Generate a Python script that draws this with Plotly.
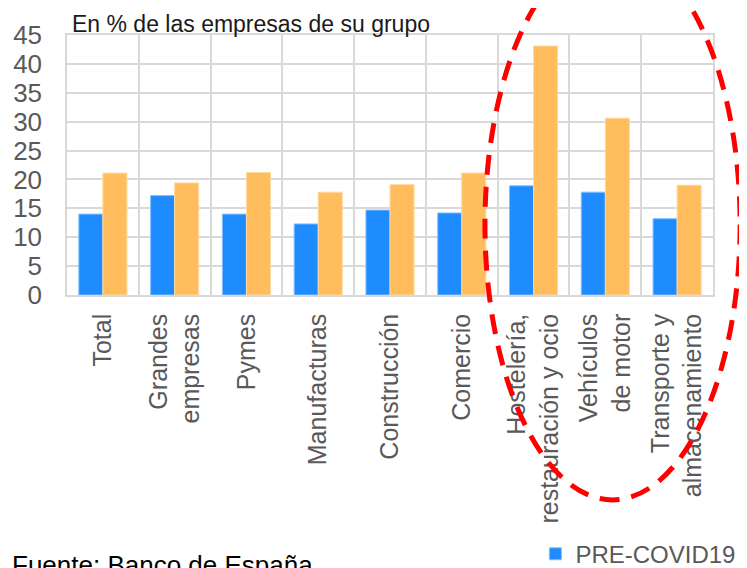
"""Empresas en situación vulnerable por sector: pre-COVID19 vs COVID19."""
import plotly.graph_objects as go

categories = [
    "Total", "Grandes<br>empresas", "Pymes", "Manufacturas", "Construcción",
    "Comercio", "Hostelería,<br>restauración y ocio", "Vehículos<br>de motor",
    "Transporte y<br>almacenamiento",
]
pre_covid = [14.0, 17.2, 14.0, 12.3, 14.7, 14.2, 18.9, 17.8, 13.2]
covid = [21.1, 19.4, 21.2, 17.8, 19.1, 21.1, 43.1, 30.6, 19.0]
y_ticks = [0, 5, 10, 15, 20, 25, 30, 35, 40, 45]

BLUE = "#1E8CFF"
ORANGE = "#FFBD5E"
GRID = "#D9D9D9"
GREY = "#595959"
FONT = "Liberation Sans"

fig = go.Figure()
fig.add_trace(go.Bar(
    x=categories, y=pre_covid, name="PRE-COVID19",
    marker=dict(color=BLUE, line=dict(color="#7FBFFF", width=1)),
))
fig.add_trace(go.Bar(
    x=categories, y=covid, name="COVID19",
    marker=dict(color=ORANGE, line=dict(color="#FFD99E", width=1)),
))

# red dashed ellipse around the most affected sectors
fig.add_shape(
    type="circle", xref="paper", yref="paper",
    x0=0.647, x1=1.042, y0=-0.788, y1=1.33,
    line=dict(color="#FF0000", width=5, dash="20px,12px"),
)

fig.add_annotation(
    text="En % de las empresas de su grupo", xref="paper", yref="paper",
    x=0.005, y=1.0, xanchor="left", yanchor="bottom", showarrow=False,
    yshift=-4, font=dict(family=FONT, size=23, color="#1A1A1A"),
)
fig.add_annotation(
    text="Fuente: Banco de España", xref="paper", yref="paper",
    x=-0.088, y=-0.972, xanchor="left", yanchor="top", showarrow=False,
    font=dict(family=FONT, size=26, color="#000000"),
)

fig.update_layout(
    width=747, height=568,
    margin=dict(l=59, r=42, t=27, b=281, autoexpand=False),
    paper_bgcolor="white", plot_bgcolor="white",
    barmode="group", bargap=0.33, bargroupgap=0,
    font=dict(family=FONT, color=GREY),
    legend=dict(
        xref="container", yref="container",
        x=0.706, y=0.078, xanchor="left", yanchor="top",
        font=dict(family=FONT, size=24, color=GREY),
        itemwidth=30, bgcolor="rgba(0,0,0,0)",
    ),
    xaxis=dict(
        tickangle=-90, tickson="boundaries", ticks="", automargin=False,
        showgrid=True, gridcolor=GRID, gridwidth=1.5,
        showline=True, linecolor=GRID, linewidth=1.5, mirror=True,
        ticklabelstandoff=7,
        tickfont=dict(family=FONT, size=25, color=GREY),
    ),
    yaxis=dict(
        range=[0, 45], tickvals=y_ticks, ticks="", automargin=False,
        showgrid=True, gridcolor=GRID, gridwidth=1.5,
        showline=True, linecolor=GRID, linewidth=1.5, mirror=True,
        zeroline=False, ticklabelstandoff=18,
        tickfont=dict(family=FONT, size=26, color=GREY),
    ),
)

fig.write_html("out.html")
